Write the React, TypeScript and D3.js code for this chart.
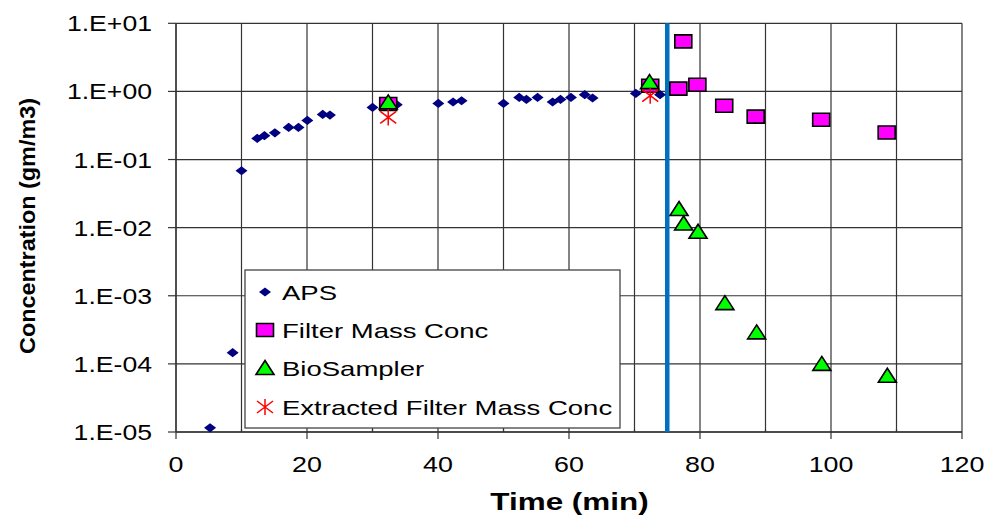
import React from "react";
import * as d3 from "d3";

// ---- data ----
const apsTime = [5.2, 8.65, 10.0, 12.4, 13.5, 15.1, 17.2, 18.7, 20.05, 22.4, 23.5, 30.0, 33.7, 40.05, 42.3, 43.6, 50.0, 52.4, 53.5, 55.2, 57.5, 58.7, 60.3, 62.4, 63.6, 70.2, 73.9];
const apsConc = [1.15e-5, 1.46e-4, 0.0685, 0.204, 0.224, 0.247, 0.296, 0.296, 0.375, 0.459, 0.45, 0.582, 0.638, 0.667, 0.699, 0.73, 0.667, 0.816, 0.763, 0.816, 0.699, 0.763, 0.816, 0.895, 0.8, 0.935, 0.895];
const filterTime = [32.4, 72.4, 76.7, 77.45, 79.6, 83.7, 88.5, 98.5, 108.5];
const filterConc = [0.653, 1.21, 1.1, 5.42, 1.25, 0.617, 0.426, 0.384, 0.25];
const bioTime = [32.4, 72.3, 76.8, 77.5, 79.7, 83.8, 88.65, 98.6, 108.6];
const bioConc = [0.69, 1.37, 0.0188, 0.0115, 0.0087, 7.8e-4, 2.9e-4, 1.0e-4, 6.7e-5];
const extTime = [32.4, 72.4];
const extConc = [0.415, 0.865];
const markerLineTime = 75;

const yTickValues = [1e-5, 1e-4, 1e-3, 1e-2, 1e-1, 1, 10];
const yTickLabels = ["1.E-05", "1.E-04", "1.E-03", "1.E-02", "1.E-01", "1.E+00", "1.E+01"];
const xGridValues = [0, 10, 20, 30, 40, 50, 60, 70, 80, 90, 100, 110, 120];
const xTickLabels = ["0", "20", "40", "60", "80", "100", "120"];
const legendLabels = ["APS", "Filter Mass Conc", "BioSampler", "Extracted Filter Mass Conc"];

const FONT = "'Liberation Sans', Arial, Helvetica, sans-serif";

export default function App() {
  const W = 990, H = 516;
  const left = 176, right = 962, top = 23.3, bottom = 432;
  const x = d3.scaleLinear().domain([0, 120]).range([left, right]);
  const y = d3.scaleLog().domain([1e-5, 10]).range([bottom, top]);

  const diamond = (cx: number, cy: number) =>
    `M${cx - 6},${cy}L${cx},${cy - 4.6}L${cx + 6},${cy}L${cx},${cy + 4.6}Z`;
  const square = (cx: number, cy: number) =>
    `M${cx - 8.5},${cy - 6.5}h17v13h-17Z`;
  const tri = (cx: number, cy: number) =>
    `M${cx},${cy - 7.5}L${cx + 9},${cy + 6.5}L${cx - 9},${cy + 6.5}Z`;
  const star = (cx: number, cy: number) =>
    `M${cx},${cy - 8}V${cy + 8}M${cx - 8},${cy - 6}L${cx + 8},${cy + 6}M${cx - 8},${cy + 6}L${cx + 8},${cy - 6}`;

  const legY = [292, 330, 368, 407];
  const legMarkX = 265;

  return (
    <svg width={W} height={H} style={{ position: "absolute", left: 0, top: 0, background: "#fff" }} fontFamily={FONT}>
      <rect x={0} y={0} width={W} height={H} fill="#fff" />
      {/* grid */}
      {yTickValues.map((v, i) => (
        <line key={"gy" + i} x1={left} x2={right} y1={y(v)} y2={y(v)} stroke="#333" strokeWidth={1.2} />
      ))}
      {xGridValues.map((v, i) => (
        <line key={"gx" + i} x1={x(v)} x2={x(v)} y1={top} y2={bottom} stroke="#333" strokeWidth={1.2} />
      ))}
      {/* axes */}
      <line x1={left} x2={left} y1={top} y2={bottom} stroke="#333" strokeWidth={1.3} />
      <line x1={left} x2={right} y1={bottom} y2={bottom} stroke="#333" strokeWidth={1.3} />
      {yTickValues.map((v, i) => (
        <line key={"ty" + i} x1={left - 8} x2={left} y1={y(v)} y2={y(v)} stroke="#333" strokeWidth={1.2} />
      ))}
      {xGridValues.map((v, i) => (
        i % 2 === 0 ? (
          <line key={"tx" + i} x1={x(v)} x2={x(v)} y1={bottom} y2={bottom + 7} stroke="#333" strokeWidth={1.2} />
        ) : (
          <line key={"tx" + i} x1={x(v)} x2={x(v)} y1={bottom - 3} y2={bottom} stroke="#333" strokeWidth={1.2} />
        )
      ))}
      {/* tick labels */}
      {yTickValues.map((v, i) => (
        <text key={"ly" + i} transform={`translate(152,${y(v) + 8}) scale(1.21,1)`} textAnchor="end" fontSize={22} fill="#000">
          {yTickLabels[i]}
        </text>
      ))}
      {xTickLabels.map((t, i) => (
        <text key={"lx" + i} transform={`translate(${x(+t)},${472}) scale(1.22,1)`} textAnchor="middle" fontSize={22} fill="#000">
          {t}
        </text>
      ))}
      {/* axis titles */}
      <text transform={`translate(569.5,510) scale(1.31,1)`} textAnchor="middle" fontSize={24} fontWeight="bold" fill="#000">
        Time (min)
      </text>
      <text transform={`translate(35,226) rotate(-90)`} textAnchor="middle" fontSize={22} fontWeight="bold" fill="#000" textLength={256} lengthAdjust="spacingAndGlyphs">
        Concentration (gm/m3)
      </text>
      {/* vertical marker line */}
      <line x1={x(markerLineTime)} x2={x(markerLineTime)} y1={top} y2={bottom} stroke="#0070C0" strokeWidth={4.5} />
      {/* series */}
      {apsTime.map((t, i) => (
        <path key={"a" + i} d={diamond(x(t), y(apsConc[i]))} fill="#000080" />
      ))}
      {filterTime.map((t, i) => (
        <path key={"f" + i} d={square(x(t), y(filterConc[i]))} fill="#FF00FF" stroke="#000" strokeWidth={1.6} />
      ))}
      {bioTime.map((t, i) => (
        <path key={"b" + i} d={tri(x(t), y(bioConc[i]))} fill="#00FF00" stroke="#000" strokeWidth={1.6} strokeLinejoin="miter" />
      ))}
      {extTime.map((t, i) => (
        <path key={"e" + i} d={star(x(t), y(extConc[i]))} fill="none" stroke="#FF0000" strokeWidth={1.5} />
      ))}
      {/* legend */}
      <rect x={245} y={270} width={375} height={158} fill="#fff" stroke="#444" strokeWidth={1.3} />
      <path d={diamond(legMarkX, legY[0])} fill="#000080" />
      <path d={square(legMarkX, legY[1])} fill="#FF00FF" stroke="#000" strokeWidth={1.6} />
      <path d={tri(legMarkX, legY[2])} fill="#00FF00" stroke="#000" strokeWidth={1.6} />
      <path d={star(legMarkX, legY[3])} fill="none" stroke="#FF0000" strokeWidth={1.5} />
      {legendLabels.map((l, i) => (
        <text key={"lg" + i} transform={`translate(282,${legY[i] + 7.5}) scale(1.31,1)`} fontSize={21} fill="#000">
          {l}
        </text>
      ))}
    </svg>
  );
}
